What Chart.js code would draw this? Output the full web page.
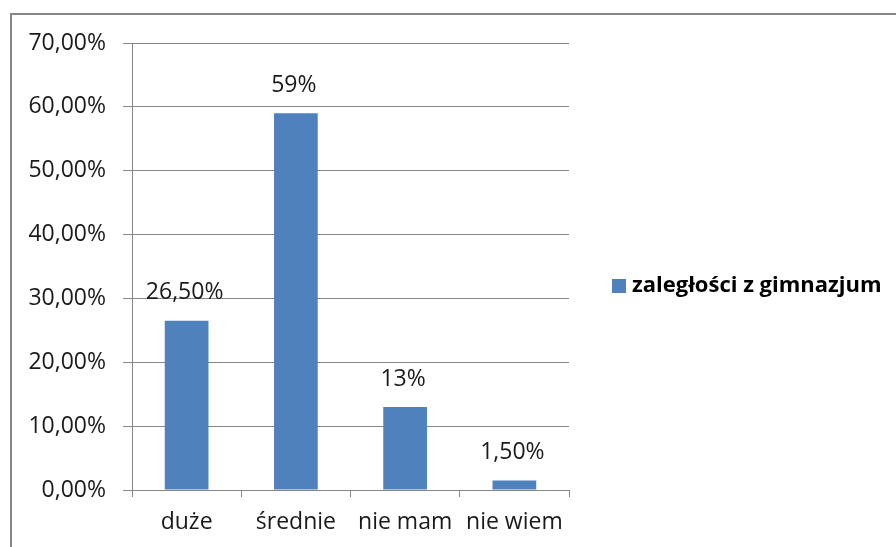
<!DOCTYPE html>
<html>
<head>
<meta charset="utf-8">
<script src="https://cdn.jsdelivr.net/npm/chart.js@4"></script>
<style>
  html, body { margin: 0; padding: 0; background: #fff; overflow: hidden; }
  #wrap { position: relative; width: 896px; height: 547px; }
  #frame { position: absolute; left: 10px; top: 13px; width: 900px; height: 600px;
           border-top: 2px solid #868686; border-left: 2px solid #868686; }
  canvas { position: absolute; left: 0; top: 0; }
</style>
</head>
<body>
<div id="wrap">
  <div id="frame"></div>
  <canvas id="chart" width="896" height="547"></canvas>
</div>
<script>
// data
const categories = ["duże", "średnie", "nie mam", "nie wiem"];
const values = [0.265, 0.59, 0.13, 0.015];
const valueLabels = ["26,50%", "59%", "13%", "1,50%"];
const seriesName = "zaległości z gimnazjum";

const FONT = "'Open Sans', sans-serif";

// value labels above each bar
const barLabels = {
    id: "barLabels",
    afterDatasetsDraw(chart) {
        const ctx = chart.ctx;
        const meta = chart.getDatasetMeta(0);
        ctx.save();
        ctx.font = "23px " + FONT;
        ctx.fillStyle = "#1a1a1a";
        ctx.textAlign = "center";
        ctx.textBaseline = "middle";
        meta.data.forEach((bar, i) => {
            ctx.fillText(valueLabels[i], bar.x - 2, bar.y - 28);
        });
        ctx.restore();
    }
};

// legend on the right
const sideLegend = {
    id: "sideLegend",
    afterDraw(chart) {
        const ctx = chart.ctx;
        const ds = chart.data.datasets[0];
        const y = 286;
        ctx.save();
        ctx.fillStyle = ds.backgroundColor;
        ctx.fillRect(612, y - 7, 14, 14);
        ctx.font = "bold 22px " + FONT;
        ctx.fillStyle = "#000";
        ctx.textBaseline = "middle";
        ctx.fillText(ds.label, 632, y);
        ctx.restore();
    }
};

const ctx = document.getElementById("chart").getContext("2d");
new Chart(ctx, {
    type: "bar",
    data: {
        labels: categories,
        datasets: [{
            label: seriesName,
            data: values,
            backgroundColor: "#4F81BD",
            barPercentage: 0.4,
            categoryPercentage: 1.0
        }]
    },
    options: {
        responsive: false,
        animation: false,
        layout: { padding: { top: 43, right: 327, left: 0, bottom: 0 } },
        plugins: {
            legend: { display: false },
            tooltip: { enabled: false }
        },
        scales: {
            x: {
                grid: {
                    offset: true,
                    drawOnChartArea: false,
                    color: "#868686",
                    tickLength: 7
                },
                border: { color: "#868686" },
                ticks: {
                    color: "#1a1a1a",
                    font: { family: FONT, size: 23 },
                    padding: 12
                },
                afterFit(scale) { scale.height = 57; }
            },
            y: {
                min: 0,
                max: 0.7,
                grid: { color: "#868686", tickLength: 9 },
                border: { color: "#868686" },
                ticks: {
                    stepSize: 0.1,
                    color: "#1a1a1a",
                    font: { family: FONT, size: 23 },
                    padding: 17,
                    callback: v => (v * 100).toFixed(2).replace(".", ",") + "%"
                },
                afterFit(scale) { scale.width = 132; }
            }
        }
    },
    plugins: [barLabels, sideLegend]
});
</script>
</body>
</html>
